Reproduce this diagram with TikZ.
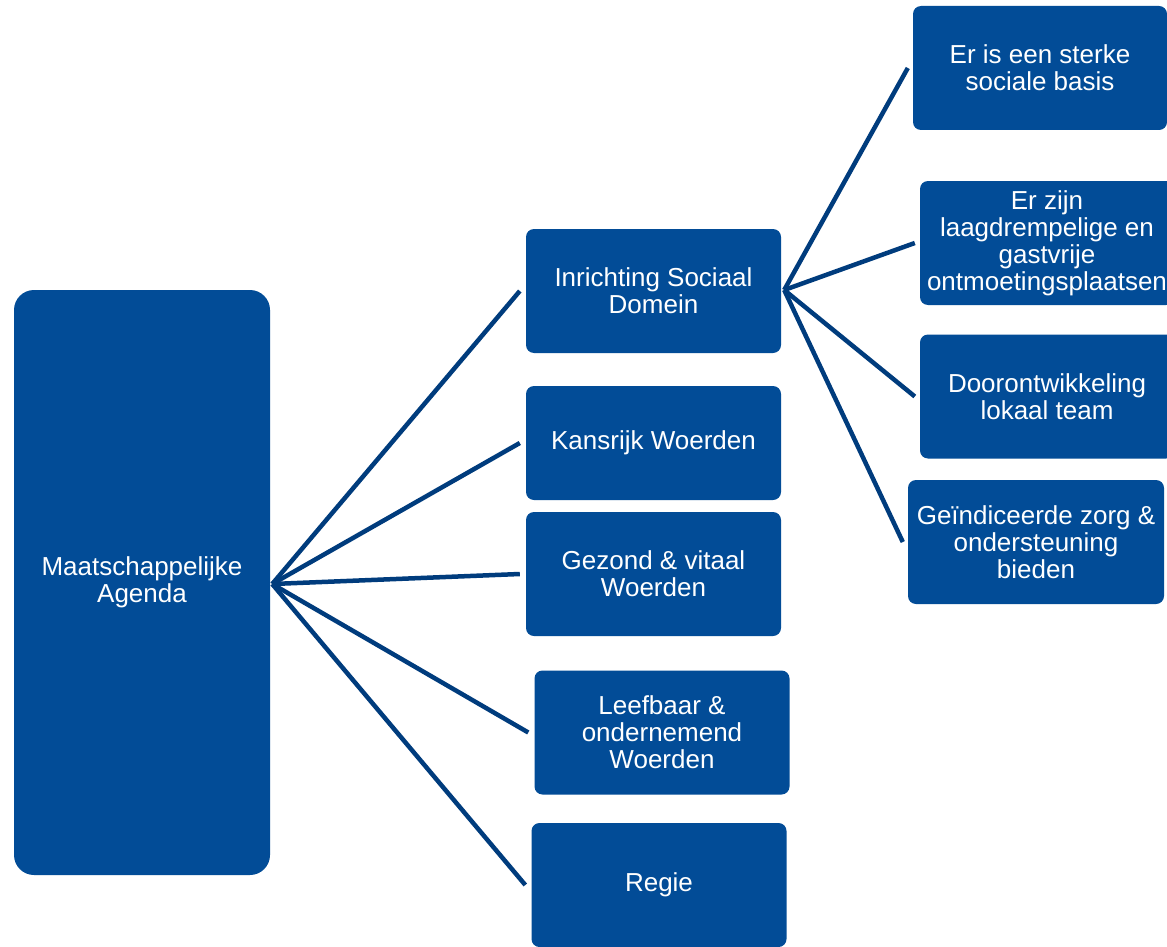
\documentclass[tikz,border=0pt]{standalone}
\usepackage{fontspec}
\setmainfont{Liberation Sans}
\definecolor{boxblue}{RGB}{2,76,151}
\definecolor{linenavy}{RGB}{0,60,125}
\begin{document}
\begin{tikzpicture}[x=1pt,y=-1pt,
  blk/.style={rectangle, rounded corners=8pt, fill=boxblue, text=white,
    inner sep=0pt, align=center, minimum width=255pt, minimum height=124pt,
    font=\fontsize{26}{27}\selectfont},
  bigblk/.style={blk, rounded corners=20pt, minimum width=256pt, minimum height=585pt},
  conn/.style={draw=linenavy, line width=4.5pt}]
\clip (0,0) rectangle (1167,947);
\fill[white] (0,0) rectangle (1167,947);

\node[bigblk] (L) at (142,582.5) {Maatschappelijke\\Agenda};
\node[blk] (A) at (653.5,291) {Inrichting Sociaal\\Domein};
\node[blk, minimum height=114pt] (B) at (653.5,443) {Kansrijk Woerden};
\node[blk] (C) at (653.5,574) {Gezond \& vitaal\\Woerden};
\node[blk] (D) at (662,732.5) {Leefbaar \&\\ondernemend\\Woerden};
\node[blk] (E) at (659,885) {Regie};

\node[blk, minimum width=254pt] (R1) at (1040,68) {Er is een sterke\\sociale basis};
\node[blk, minimum width=254pt] (R2) at (1047,243) {Er zijn\\laagdrempelige en\\gastvrije\\ontmoetingsplaatsen};
\node[blk, minimum width=254pt] (R3) at (1047,396.5) {Doorontwikkeling\\lokaal team};
\node[blk, minimum width=256pt] (R4) at (1036,542) {Geïndiceerde zorg \&\\ondersteuning\\bieden};

\coordinate (hubL) at ([xshift=2pt,yshift=-1.5pt]L.east);
\coordinate (hubA) at ([xshift=3pt,yshift=1pt]A.east);

\foreach \t in {A,B,C,D,E}
  \draw[conn] (hubL) -- ([xshift=-6pt]\t.west);
\foreach \t in {R1,R2,R3,R4}
  \draw[conn] (hubA) -- ([xshift=-5pt]\t.west);
\end{tikzpicture}
\end{document}
